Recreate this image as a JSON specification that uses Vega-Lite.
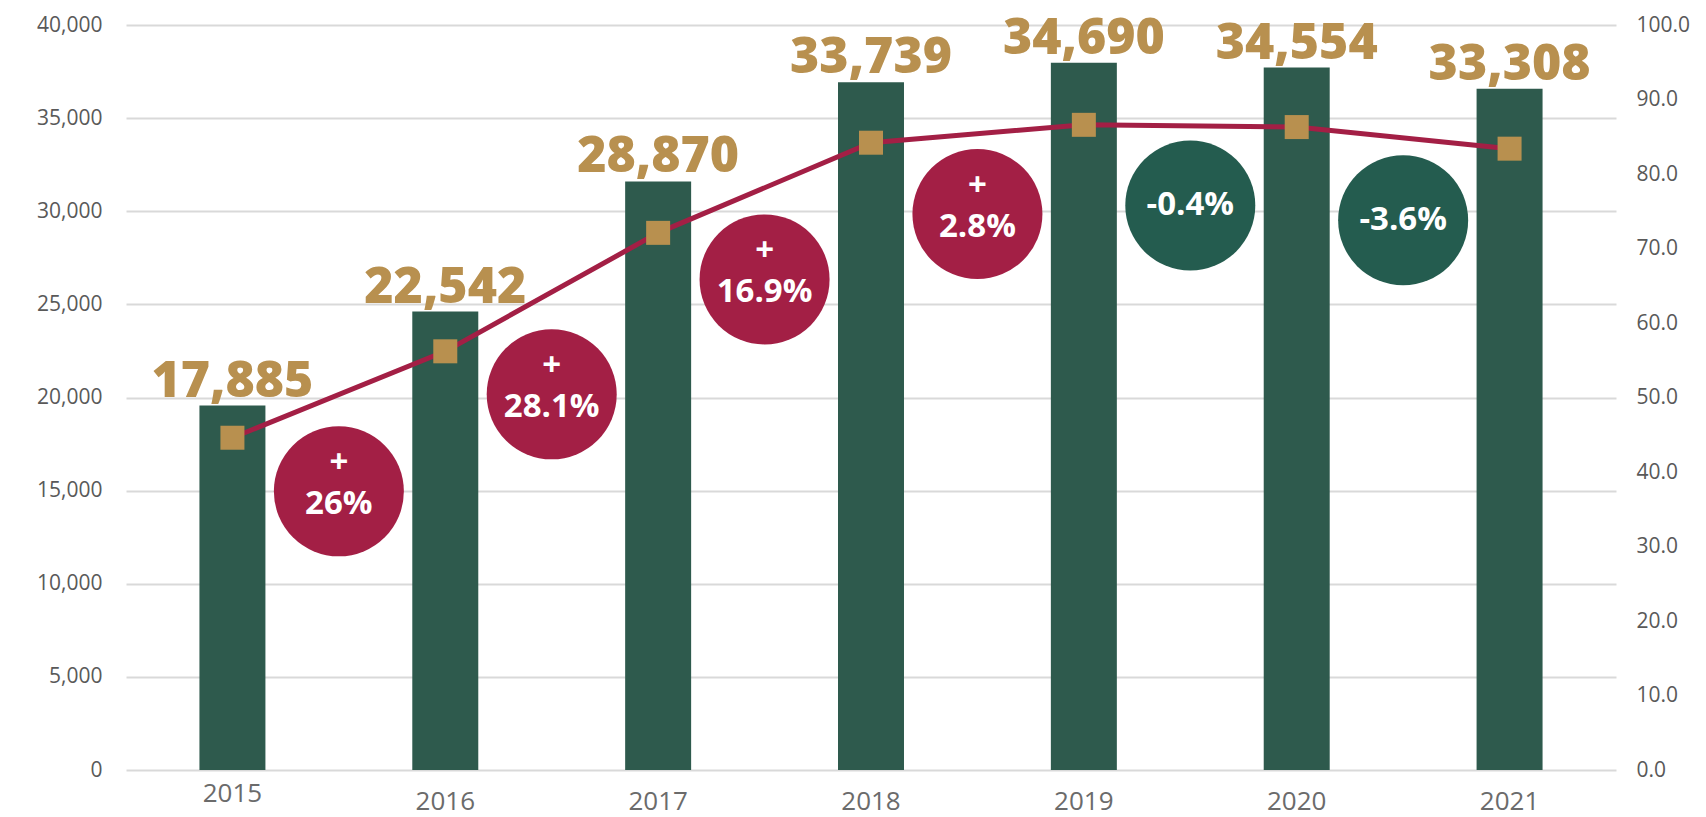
{
  "$schema": "https://vega.github.io/schema/vega-lite/v6.json",
  "autosize": {"type": "none"},
  "width": 1490,
  "height": 745,
  "padding": {"left": 126, "top": 25, "right": 90, "bottom": 47},
  "background": "white",
  "config": {"view": {"stroke": null}, "font": "Open Sans"},
  "datasets": {
    "main": [
      {"year": "2015", "bar": 19565, "label": "17,885", "rate": 44.6},
      {"year": "2016", "bar": 24613, "label": "22,542", "rate": 56.2},
      {"year": "2017", "bar": 31600, "label": "28,870", "rate": 72.1},
      {"year": "2018", "bar": 36930, "label": "33,739", "rate": 84.2},
      {"year": "2019", "bar": 37970, "label": "34,690", "rate": 86.6},
      {"year": "2020", "bar": 37717, "label": "34,554", "rate": 86.3},
      {"year": "2021", "bar": 36573, "label": "33,308", "rate": 83.4}
    ],
    "circles": [
      {"year": "2015", "cy": 14960, "sign": "+", "pct": "26%", "chg": 26},
      {"year": "2016", "cy": 20170, "sign": "+", "pct": "28.1%", "chg": 28.1},
      {"year": "2017", "cy": 26340, "sign": "+", "pct": "16.9%", "chg": 16.9},
      {"year": "2018", "cy": 29850, "sign": "+", "pct": "2.8%", "chg": 2.8},
      {"year": "2019", "cy": 30310, "sign": "", "pct": "-0.4%", "chg": -0.4},
      {"year": "2020", "cy": 29520, "sign": "", "pct": "-3.6%", "chg": -3.6}
    ]
  },
  "layer": [
    {
      "layer": [
        {
          "data": {"name": "main"},
          "mark": {"type": "bar", "color": "#2E5A4D"},
          "encoding": {
            "x": {
              "field": "year", "type": "ordinal",
              "scale": {"paddingInner": 0.69, "paddingOuter": 0.345},
              "axis": {
                "title": null, "labelAngle": 0, "labelFontSize": 26, "labelColor": "#6b6b6b",
                "labelFont": "Open Sans", "ticks": false, "domain": false, "labelBaseline": "top",
                "labelPadding": {"condition": {"test": "datum.label == '2015'", "value": 10}, "value": 18}
              }
            },
            "y": {
              "field": "bar", "type": "quantitative",
              "scale": {"domain": [0, 40000], "nice": false},
              "axis": {
                "title": null, "values": [0, 5000, 10000, 15000, 20000, 25000, 30000, 35000, 40000],
                "format": ",d", "labelFontSize": 21, "labelColor": "#595959", "labelFont": "Open Sans",
                "ticks": false, "domain": false, "labelPadding": 24,
                "grid": true, "gridColor": "#D9D9D9", "gridWidth": 2
              }
            }
          }
        },
        {
          "data": {"name": "main"},
          "mark": {"type": "text", "color": "#B8904F", "fontSize": 50, "fontWeight": 800, "font": "Open Sans", "baseline": "alphabetic", "dy": -9},
          "encoding": {
            "x": {"field": "year", "type": "ordinal"},
            "y": {"field": "bar", "type": "quantitative", "title": null},
            "text": {"field": "label"}
          }
        },
        {
          "data": {"name": "circles"},
          "mark": {"type": "point", "shape": "circle", "size": 16900, "filled": true, "opacity": 1},
          "encoding": {
            "x": {"field": "year", "type": "ordinal", "bandPosition": 2.1129},
            "y": {"field": "cy", "type": "quantitative", "title": null},
            "color": {"condition": {"test": "datum.chg > 0", "value": "#A31F45"}, "value": "#245C4F"}
          }
        },
        {
          "data": {"name": "circles"},
          "mark": {"type": "text", "color": "white", "fontSize": 33, "fontWeight": "bold", "font": "Open Sans", "baseline": "middle", "dy": -28},
          "encoding": {
            "x": {"field": "year", "type": "ordinal", "bandPosition": 2.1129},
            "y": {"field": "cy", "type": "quantitative", "title": null},
            "text": {"field": "sign"}
          }
        },
        {
          "data": {"name": "circles"},
          "transform": [{"filter": "datum.chg > 0"}],
          "mark": {"type": "text", "color": "white", "fontSize": 33, "fontWeight": "bold", "font": "Open Sans", "baseline": "middle", "dy": 13},
          "encoding": {
            "x": {"field": "year", "type": "ordinal", "bandPosition": 2.1129},
            "y": {"field": "cy", "type": "quantitative", "title": null},
            "text": {"field": "pct"}
          }
        },
        {
          "data": {"name": "circles"},
          "transform": [{"filter": "datum.chg < 0"}],
          "mark": {"type": "text", "color": "white", "fontSize": 33, "fontWeight": "bold", "font": "Open Sans", "baseline": "middle", "dy": 0},
          "encoding": {
            "x": {"field": "year", "type": "ordinal", "bandPosition": 2.1129},
            "y": {"field": "cy", "type": "quantitative", "title": null},
            "text": {"field": "pct"}
          }
        }
      ]
    },
    {
      "data": {"name": "main"},
      "layer": [
        {
          "mark": {"type": "line", "color": "#A31F45", "strokeWidth": 5},
          "encoding": {
            "x": {"field": "year", "type": "ordinal"},
            "y": {
              "field": "rate", "type": "quantitative",
              "scale": {"domain": [0, 100], "nice": false},
              "axis": {
                "title": null, "orient": "right", "values": [0, 10, 20, 30, 40, 50, 60, 70, 80, 90, 100],
                "format": ".1f", "labelFontSize": 21, "labelColor": "#595959", "labelFont": "Open Sans",
                "ticks": false, "domain": false, "grid": false, "labelPadding": 20
              }
            }
          }
        },
        {
          "mark": {"type": "point", "shape": "square", "size": 576, "filled": true, "opacity": 1, "color": "#B8904F"},
          "encoding": {
            "x": {"field": "year", "type": "ordinal"},
            "y": {"field": "rate", "type": "quantitative", "title": null}
          }
        }
      ]
    }
  ],
  "resolve": {"scale": {"y": "independent"}, "axis": {"y": "independent"}}
}
